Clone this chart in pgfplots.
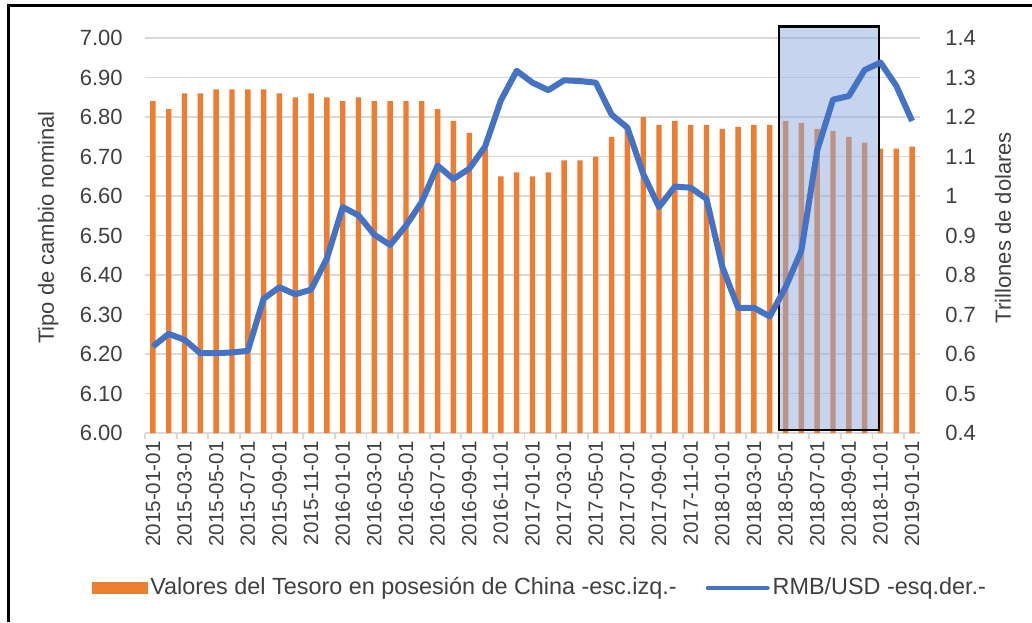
\documentclass[border=0pt]{standalone}
\usepackage{fontspec}
\setmainfont{Liberation Sans}
\usepackage{pgfplots}
\pgfplotsset{compat=1.18}
\usepackage{pgfplotstable}
\definecolor{barorange}{HTML}{ED7D31}
\definecolor{lineblue}{HTML}{4472C4}
\definecolor{gridgray}{HTML}{D9D9D9}
\definecolor{txt}{HTML}{404040}
\definecolor{boxfill}{HTML}{8FAADC}

% Valores del Tesoro (escala izquierda, 6.00-7.00)
\pgfplotstableread{
idx val
0 6.84
1 6.82
2 6.86
3 6.86
4 6.87
5 6.87
6 6.87
7 6.87
8 6.86
9 6.85
10 6.86
11 6.85
12 6.84
13 6.85
14 6.84
15 6.84
16 6.84
17 6.84
18 6.82
19 6.79
20 6.76
21 6.72
22 6.65
23 6.66
24 6.65
25 6.66
26 6.69
27 6.69
28 6.70
29 6.75
30 6.77
31 6.80
32 6.78
33 6.79
34 6.78
35 6.78
36 6.77
37 6.775
38 6.78
39 6.78
40 6.79
41 6.785
42 6.77
43 6.765
44 6.75
45 6.735
46 6.72
47 6.72
48 6.725
}\tesoro

% RMB/USD (escala derecha, 0.4-1.4)
\pgfplotstableread{
idx val
0 0.619
1 0.651
2 0.636
3 0.602
4 0.602
5 0.604
6 0.608
7 0.740
8 0.769
9 0.751
10 0.763
11 0.842
12 0.972
13 0.951
14 0.902
15 0.876
16 0.925
17 0.985
18 1.077
19 1.043
20 1.069
21 1.125
22 1.242
23 1.317
24 1.287
25 1.268
26 1.293
27 1.291
28 1.287
29 1.206
30 1.173
31 1.056
32 0.972
33 1.024
34 1.021
35 0.993
36 0.821
37 0.717
38 0.717
39 0.695
40 0.769
41 0.862
42 1.115
43 1.244
44 1.253
45 1.319
46 1.338
47 1.279
48 1.190
}\rmb

\begin{document}
\begin{tikzpicture}
\useasboundingbox (0,0) rectangle (516pt,311pt);
\draw[line width=1.5pt] (4pt,0) -- (4pt,308pt) -- (516pt,308pt);

\begin{axis}[
  at={(72.5pt,94.5pt)}, anchor=south west,
  scale only axis, width=387.5pt, height=197.5pt,
  xmin=-0.5, xmax=48.5, ymin=6, ymax=7,
  axis x line*=bottom, axis y line*=left,
  x axis line style={gridgray, line width=0.9pt},
  y axis line style={draw=none},
  /pgf/number format/assume math mode=true,
  ytick={6.0,6.1,6.2,6.3,6.4,6.5,6.6,6.7,6.8,6.9,7.0},
  yticklabel style={/pgf/number format/.cd, fixed, fixed zerofill, precision=2, /tikz/.cd,
    font=\fontsize{11}{13}\selectfont, text=txt, inner sep=0pt},
  yticklabel shift=11pt,
  major tick length=0pt,
  ymajorgrids, grid style={gridgray, line width=0.9pt},
  xtick={0,2,...,48},
  xticklabels={2015-01-01,2015-03-01,2015-05-01,2015-07-01,2015-09-01,2015-11-01,
    2016-01-01,2016-03-01,2016-05-01,2016-07-01,2016-09-01,2016-11-01,
    2017-01-01,2017-03-01,2017-05-01,2017-07-01,2017-09-01,2017-11-01,
    2018-01-01,2018-03-01,2018-05-01,2018-07-01,2018-09-01,2018-11-01,2019-01-01},
  xticklabel style={rotate=90, anchor=east, inner sep=0pt,
    font=\fontsize{10.3}{12}\selectfont, text=txt},
  xticklabel shift=4pt,
  extra x ticks={-0.5,1.5,...,47.5},
  extra x tick labels={},
  extra x tick style={major tick length=3pt, tick align=outside,
    tick style={gridgray, line width=0.9pt}, grid=none},
  ylabel={Tipo de cambio nominal},
  ylabel style={at={(axis description cs:-0.125,0.52)}, anchor=center,
    font=\fontsize{11}{13}\selectfont, text=txt},
]
\addplot[ybar, bar width=2.7pt, bar shift=0pt, fill=barorange, draw=none]
  table[x=idx, y=val] {\tesoro};
\end{axis}

\begin{axis}[
  at={(72.5pt,94.5pt)}, anchor=south west,
  scale only axis, width=387.5pt, height=197.5pt,
  xmin=-0.5, xmax=48.5, ymin=0.4, ymax=1.4,
  axis x line=none, axis y line*=right,
  y axis line style={draw=none},
  /pgf/number format/assume math mode=true,
  ytick={0.4,0.5,0.6,0.7,0.8,0.9,1.0,1.1,1.2,1.3,1.4},
  major tick length=0pt,
  yticklabel style={font=\fontsize{11}{13}\selectfont, text=txt, inner sep=0pt},
  yticklabel shift=12.5pt,
  ylabel={Trillones de dolares},
  ylabel style={at={(axis description cs:1.107,0.52)}, anchor=center,
    font=\fontsize{11}{13}\selectfont, text=txt},
  clip=false,
  legend columns=2,
  legend style={at={(axis description cs:0.51,-0.392)}, anchor=center,
    draw=none, fill=none, font=\fontsize{11.7}{14}\selectfont, text=txt,
    nodes={inner sep=1.5pt},
    /tikz/every even column/.append style={column sep=13pt}},
]
\addlegendimage{legend image code/.code={\fill[barorange] (0pt,-2.75pt) rectangle (27.5pt,2.75pt);}}
\addlegendentry{Valores del Tesoro en posesión de China -esc.izq.-}
\draw[black, line width=1.2pt, fill=boxfill, fill opacity=0.5]
  (axis cs:39.6,0.408) rectangle (axis cs:45.9,1.429);
\addplot[lineblue, line width=3pt, line join=round, no markers,
  legend image code/.code={\draw[lineblue, line width=2pt, line cap=round] (0pt,0pt) -- (30pt,0pt);}]
  table[x=idx, y=val] {\rmb};
\addlegendentry{RMB/USD -esq.der.-}
\end{axis}
\end{tikzpicture}
\end{document}
